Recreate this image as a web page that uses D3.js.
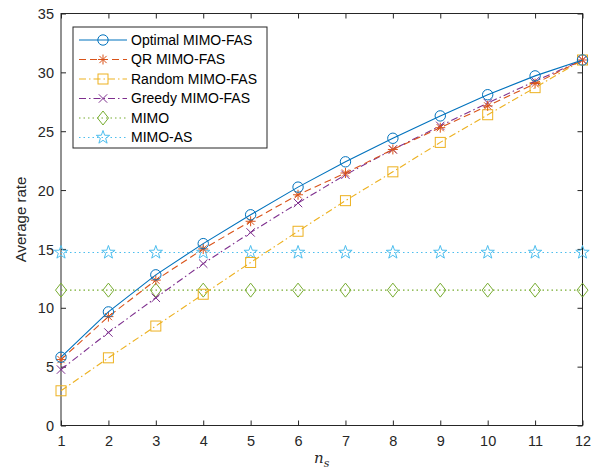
<!DOCTYPE html>
<html><head><meta charset="utf-8">
<script src="https://cdn.jsdelivr.net/npm/d3@7"></script>
<style>body{margin:0;background:#fff}svg{display:block}</style>
</head><body>
<svg id="c" width="596" height="470"></svg>
<script>
const nsValues = [1,2,3,4,5,6,7,8,9,10,11,12];
const optimal = [5.8, 9.65, 12.8, 15.45, 17.9, 20.25, 22.4, 24.4, 26.3, 28.1, 29.7, 31.05];
const qr      = [5.6, 9.25, 12.35, 15.0, 17.35, 19.6, 21.45, 23.45, 25.3, 27.15, 29.05, 31.05];
const random  = [2.95, 5.75, 8.45, 11.15, 13.85, 16.5, 19.1, 21.55, 24.05, 26.4, 28.7, 31.05];
const greedy  = [4.75, 7.9, 10.85, 13.75, 16.4, 18.9, 21.3, 23.45, 25.45, 27.4, 29.25, 31.05];
const mimo    = [11.5, 11.5, 11.5, 11.5, 11.5, 11.5, 11.5, 11.5, 11.5, 11.5, 11.5, 11.5];
const mimoAS  = [14.7, 14.7, 14.7, 14.7, 14.7, 14.7, 14.7, 14.7, 14.7, 14.7, 14.7, 14.7];
const seriesNames = ["Optimal MIMO-FAS","QR MIMO-FAS","Random MIMO-FAS","Greedy MIMO-FAS","MIMO","MIMO-AS"];
const xTicks = [1,2,3,4,5,6,7,8,9,10,11,12];
const yTicks = [0,5,10,15,20,25,30,35];

const series = [
  {name: seriesNames[0], values: optimal, color: "#0072BD", dash: null, marker: "circle"},
  {name: seriesNames[1], values: qr, color: "#D95319", dash: "7,4", marker: "asterisk"},
  {name: seriesNames[2], values: random, color: "#EDB120", dash: "7,3,1.5,3", marker: "square"},
  {name: seriesNames[3], values: greedy, color: "#7E2F8E", dash: "7,3,1.5,3", marker: "x"},
  {name: seriesNames[4], values: mimo, color: "#77AC30", dash: "1.5,3", marker: "diamond"},
  {name: seriesNames[5], values: mimoAS, color: "#4DBEEE", dash: "1.5,3", marker: "star"}
];

const svg = d3.select("#c");
const L = 61, R = 582.5, T = 13.5, B = 425.5;
const x = d3.scaleLinear().domain([1,12]).range([L,R]);
const y = d3.scaleLinear().domain([0,35]).range([B,T]);
const axisColor = "#262626";
const font = "'Liberation Sans', Arial, sans-serif";

svg.append("rect").attr("x",L).attr("y",T).attr("width",R-L).attr("height",B-T)
  .attr("fill","none").attr("stroke",axisColor).attr("stroke-width",1);

const tk = 5;
const gx = svg.append("g").attr("transform",`translate(0,${B})`)
  .call(d3.axisBottom(x).tickValues(xTicks).tickSize(-tk).tickPadding(10).tickFormat(d3.format("d")));
const gxt = svg.append("g").attr("transform",`translate(0,${T})`)
  .call(d3.axisTop(x).tickValues(xTicks).tickSize(-tk).tickFormat(""));
const gy = svg.append("g").attr("transform",`translate(${L},0)`)
  .call(d3.axisLeft(y).tickValues(yTicks).tickSize(-tk).tickPadding(7).tickFormat(d3.format("d")));
const gyr = svg.append("g").attr("transform",`translate(${R},0)`)
  .call(d3.axisRight(y).tickValues(yTicks).tickSize(-tk).tickFormat(""));
[gx,gxt,gy,gyr].forEach(g=>{
  g.select(".domain").remove();
  g.selectAll(".tick line").attr("stroke",axisColor);
  g.selectAll("text").attr("fill",axisColor).style("font-family",font).style("font-size","14.5px");
});
gy.selectAll("text").attr("dy","0.35em");

svg.append("text").attr("transform",`translate(26,${(T+B)/2}) rotate(-90)`)
  .attr("text-anchor","middle").style("font-family",font).style("font-size","15px")
  .attr("fill",axisColor).text("Average rate");
const xl = svg.append("text").attr("x",(L+R)/2).attr("y",463).attr("text-anchor","middle")
  .style("font-family","'DejaVu Serif','Liberation Serif',serif").style("font-style","italic")
  .style("font-size","15px").attr("fill",axisColor);
xl.append("tspan").text("n");
xl.append("tspan").attr("dy",4).style("font-size","11px").text("s");

function drawMarker(g, type, cx, cy, color){
  const s = 5;
  if(type==="circle"){
    g.append("circle").attr("cx",cx).attr("cy",cy).attr("r",5.2).attr("fill","none").attr("stroke",color);
  } else if(type==="asterisk"){
    const p = `M${cx-s},${cy}L${cx+s},${cy}M${cx},${cy-s}L${cx},${cy+s}M${cx-3.6},${cy-3.6}L${cx+3.6},${cy+3.6}M${cx-3.6},${cy+3.6}L${cx+3.6},${cy-3.6}`;
    g.append("path").attr("d",p).attr("stroke",color).attr("fill","none");
  } else if(type==="square"){
    g.append("rect").attr("x",cx-5).attr("y",cy-5).attr("width",10).attr("height",10).attr("fill","none").attr("stroke",color);
  } else if(type==="x"){
    const a=4.2;
    g.append("path").attr("d",`M${cx-a},${cy-a}L${cx+a},${cy+a}M${cx-a},${cy+a}L${cx+a},${cy-a}`).attr("stroke",color).attr("fill","none");
  } else if(type==="diamond"){
    g.append("path").attr("d",`M${cx},${cy-7}L${cx+5.5},${cy}L${cx},${cy+7}L${cx-5.5},${cy}Z`).attr("stroke",color).attr("fill","none");
  } else if(type==="star"){
    const pts=[]; const ro=7, ri=2.8;
    for(let i=0;i<10;i++){const r=i%2?ri:ro; const a=-Math.PI/2+i*Math.PI/5; pts.push([cx+r*Math.cos(a), cy+r*Math.sin(a)]);}
    g.append("path").attr("d","M"+pts.map(p=>p.join(",")).join("L")+"Z").attr("stroke",color).attr("fill","none");
  }
}

const line = d3.line().x((d,i)=>x(nsValues[i])).y(d=>y(d));
const order = [4,5,2,3,1,0];
order.forEach(k=>{
  const s = series[k];
  const g = svg.append("g");
  g.append("path").datum(s.values).attr("d",line).attr("fill","none").attr("stroke",s.color)
    .attr("stroke-width",1.1).attr("stroke-dasharray",s.dash);
  s.values.forEach((v,i)=>drawMarker(g,s.marker,x(nsValues[i]),y(v),s.color));
});

const lg = svg.append("g");
lg.append("rect").attr("x",73).attr("y",27).attr("width",194).attr("height",121)
  .attr("fill","#fff").attr("stroke",axisColor).attr("stroke-width",1);
series.forEach((s,i)=>{
  const yy = 40 + i*19.5;
  lg.append("line").attr("x1",79).attr("x2",127).attr("y1",yy).attr("y2",yy)
    .attr("stroke",s.color).attr("stroke-width",1.1).attr("stroke-dasharray",s.dash);
  drawMarker(lg,s.marker,103,yy,s.color);
  lg.append("text").attr("x",131).attr("y",yy).attr("dy","0.35em").style("font-family",font)
    .style("font-size","14px").attr("fill","#000").text(s.name);
});
</script>
</body></html>
